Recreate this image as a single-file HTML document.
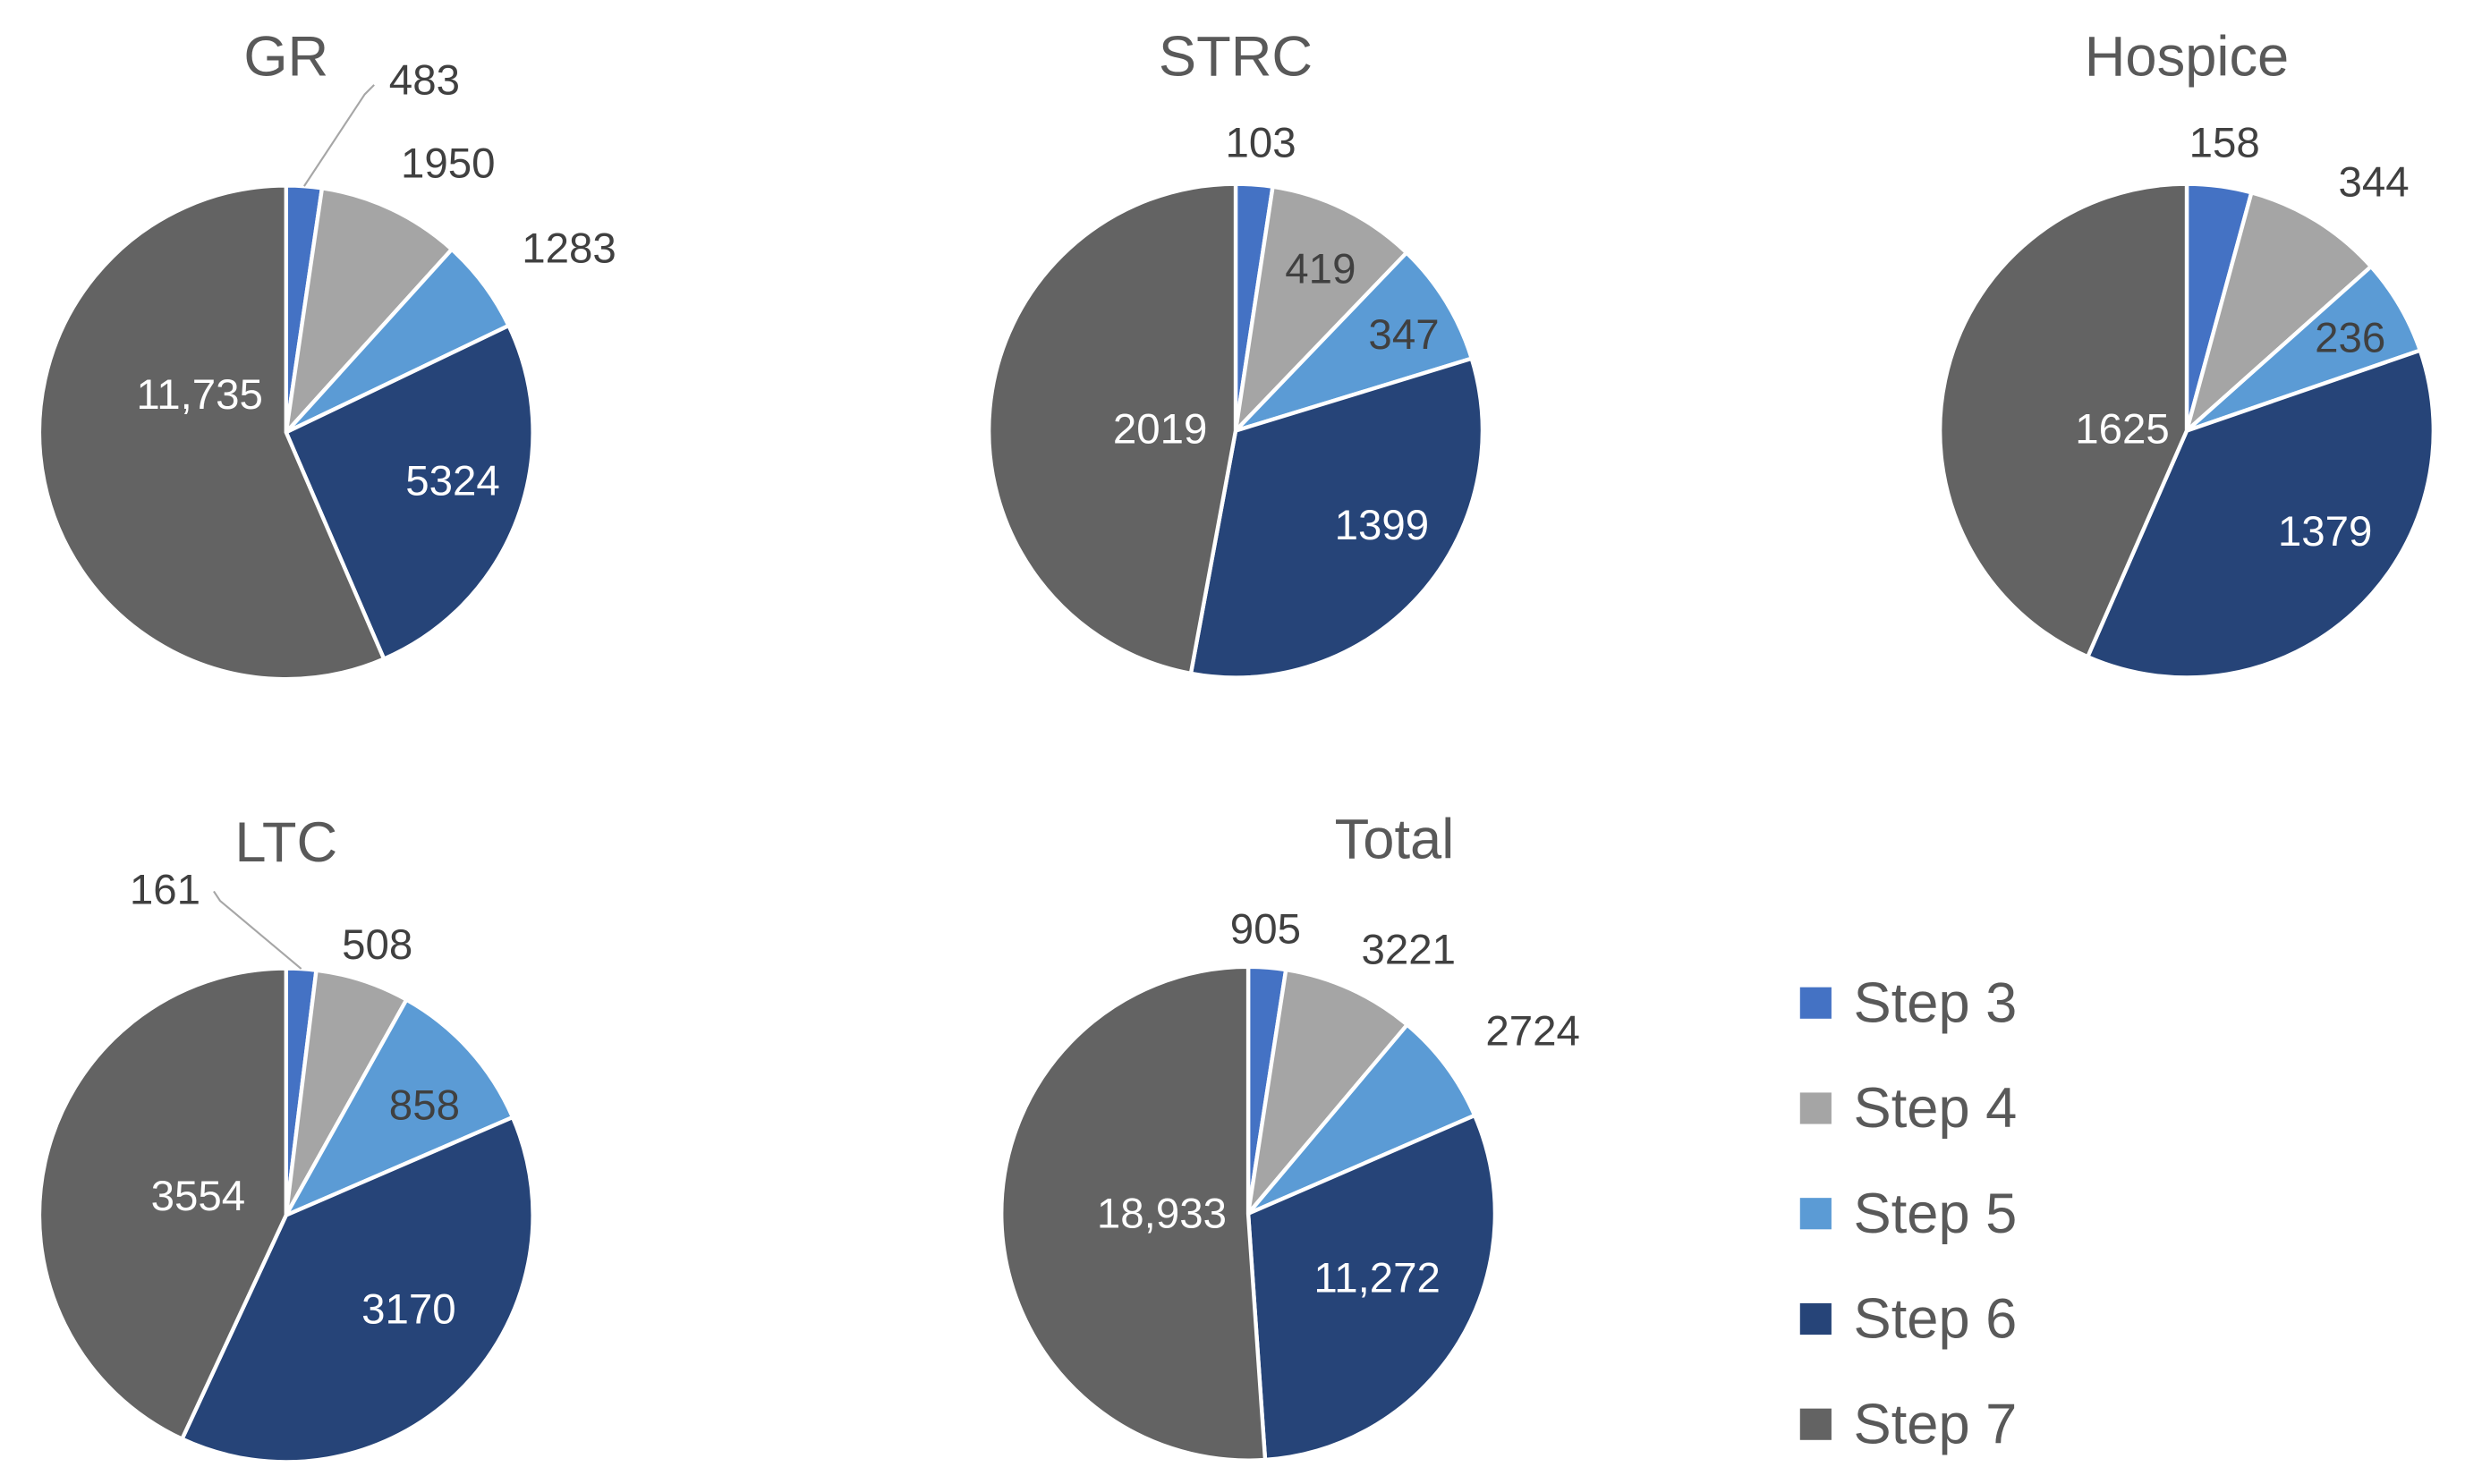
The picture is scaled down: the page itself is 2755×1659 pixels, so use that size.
<!DOCTYPE html>
<html><head><meta charset="utf-8"><style>
html,body{margin:0;padding:0;background:#fff;}
svg{display:block;font-family:"Liberation Sans",Calibri,sans-serif;}
</style></head><body>
<svg id="chart" width="2755" height="1659" viewBox="0 0 1568 944" preserveAspectRatio="none" xmlns="http://www.w3.org/2000/svg"></svg>
<script>
const categories = ["Step 3","Step 4","Step 5","Step 6","Step 7"];
const pieTitles = ["GR","STRC","Hospice","LTC","Total"];
const valuesGR = [483,1950,1283,5324,11735];
const valuesSTRC = [103,419,347,1399,2019];
const valuesHospice = [158,344,236,1379,1625];
const valuesLTC = [161,508,858,3170,3554];
const valuesTotal = [905,3221,2724,11272,18933];
const labelsGR = ["483","1950","1283","5324","11,735"];
const labelsSTRC = ["103","419","347","1399","2019"];
const labelsHospice = ["158","344","236","1379","1625"];
const labelsLTC = ["161","508","858","3170","3554"];
const labelsTotal = ["905","3221","2724","11,272","18,933"];

const colors = ["#4472C4","#A5A5A5","#5B9BD5","#264478","#636363"];
const svg = document.getElementById('chart');
const NS = "http://www.w3.org/2000/svg";
function mk(tag, attrs, parent){const e=document.createElementNS(NS,tag);for(const k in attrs)e.setAttribute(k,attrs[k]);(parent||svg).appendChild(e);return e;}

// label anchor offsets relative to pie centre (layout only)
const layouts = [
 {cx:182,cy:275,tx:182,ty:35,vals:valuesGR,labs:labelsGR,off:[[88,-225],[103,-172],[180,-118],[106,30],[-55,-25]],out:[1,1,1,0,0],leader:{i:0,px:232,py:60}},
 {cx:786,cy:274,tx:786,ty:35,vals:valuesSTRC,labs:labelsSTRC,off:[[16,-184],[54,-104],[107,-62],[93,59],[-48,-2]],out:[1,0,0,0,0]},
 {cx:1391,cy:274,tx:1391,ty:35,vals:valuesHospice,labs:labelsHospice,off:[[24,-184],[119,-159],[104,-60],[88,63],[-41,-2]],out:[1,1,0,0,0]},
 {cx:182,cy:773,tx:182,ty:535,vals:valuesLTC,labs:labelsLTC,off:[[-77,-208],[58,-173],[88,-71],[78,59],[-56,-13]],out:[1,1,0,0,0],leader:{i:0,px:140,py:573}},
 {cx:794,cy:772,tx:887,ty:533,vals:valuesTotal,labs:labelsTotal,off:[[11,-182],[102,-169],[181,-117],[82,40],[-55,-1]],out:[1,1,1,0,0]}
];
const R = 157;
function pt(cx,cy,r,a){const t=a*Math.PI/180;return [cx+r*Math.sin(t), cy-r*Math.cos(t)];}

layouts.forEach((L,pi)=>{
  const g = mk('g',{});
  
  
  const title = mk('text',{x:L.tx,y:L.ty+13,'text-anchor':'middle','font-size':36,fill:'#595959'},g);
  title.textContent = pieTitles[pi];
  
  
  const total = L.vals.reduce((a,b)=>a+b,0);
  let cum = 0;
  L.vals.forEach((v,i)=>{
    const a0 = cum/total*360, a1 = (cum+v)/total*360; cum += v;
    const [x0,y0]=pt(L.cx,L.cy,R,a0),[x1,y1]=pt(L.cx,L.cy,R,a1);
    const large = (a1-a0)>180?1:0;
    const p = mk('path',{d:`M${L.cx},${L.cy} L${x0},${y0} A${R},${R} 0 ${large} 1 ${x1},${y1} Z`,fill:colors[i],stroke:'#fff','stroke-width':2.5,'stroke-linejoin':'round'},g);
    
    
    const mid = (a0+a1)/2;
    const lx = L.cx+L.off[i][0], ly = L.cy+L.off[i][1];
    const fill = L.out[i] ? '#404040' : ((i===3||i===4)?'#ffffff':'#404040');
    if (L.leader && L.leader.i===i){
      const [ex,ey]=pt(L.cx,L.cy,R,mid);
      const lxEnd = lx>L.cx ? L.leader.px+6 : L.leader.px-4;
      const ln = mk('polyline',{points:`${ex},${ey} ${L.leader.px},${L.leader.py} ${lxEnd},${L.leader.py-6}`,fill:'none',stroke:'#A6A6A6','stroke-width':1.2},g);
      
      
    }
    const t = mk('text',{x:lx,y:ly+10,'text-anchor':'middle','font-size':27,fill:fill},g);
    t.textContent = L.labs[i];
    
    
  });
});

const lg = mk('g',{});


categories.forEach((c,i)=>{
  const y = 638 + i*67;
  const r = mk('rect',{x:1145,y:y-10,width:20,height:20,fill:colors[i]},lg);
  
  
  const t = mk('text',{x:1179,y:y+12,'font-size':36,fill:'#595959'},lg);
  t.textContent = c;
  
  
});
</script>
</body></html>
